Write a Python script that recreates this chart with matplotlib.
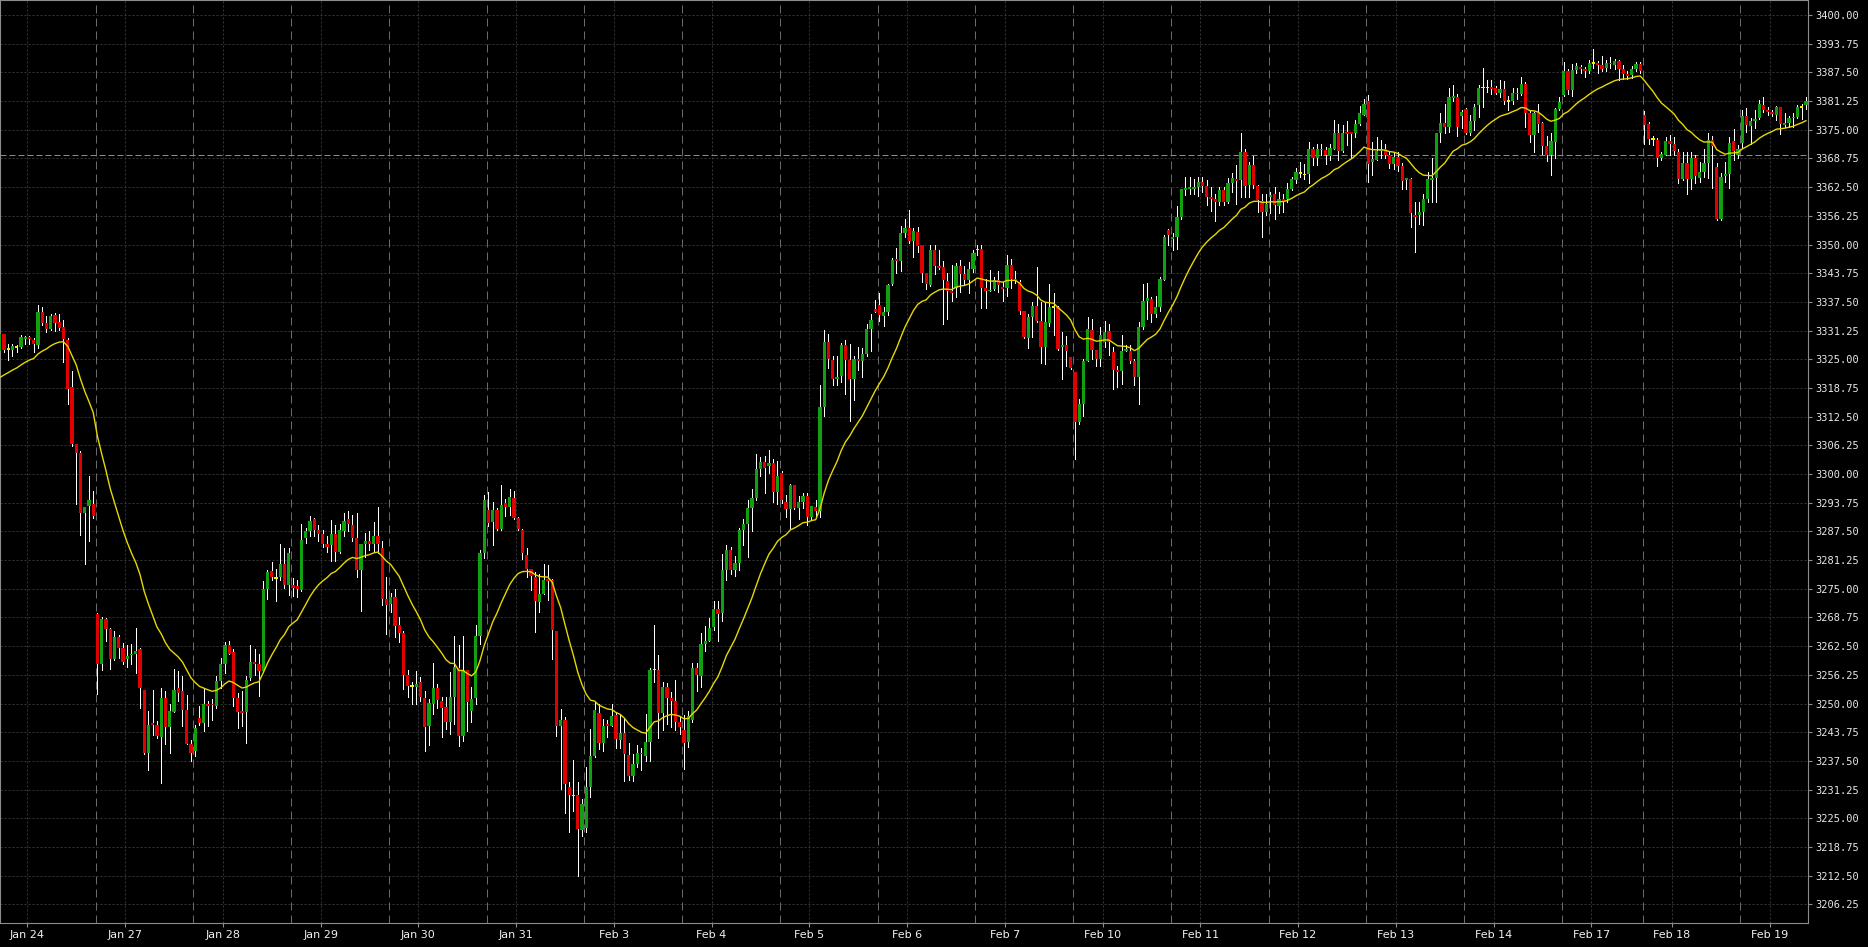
import matplotlib.pyplot as plt
import numpy as np

# hourly bars, one session = 23 bars (Feb 17 short session)
opens = [
    3326.8, 3330.5, 3327.0, 3327.0, 3327.5, 3327.7, 3329.5, 3329.9, 3329.2, 3328.1,
    3335.3, 3332.9, 3331.5, 3334.6, 3333.1, 3332.1, 3329.2, 3319.0, 3306.5, 3304.6,
    3291.4, 3293.0, 3293.4, 3269.6, 3258.6, 3268.4, 3266.3, 3259.6, 3264.4, 3262.1,
    3259.6, 3260.5, 3260.7, 3261.9, 3252.9, 3239.2, 3245.7, 3245.4, 3242.7, 3251.1,
    3244.9, 3248.2, 3253.3, 3252.7, 3248.5, 3241.1, 3239.6, 3246.9, 3245.8, 3249.8,
    3249.9, 3249.4, 3255.0, 3258.6, 3262.8, 3261.2, 3251.2, 3248.3, 3248.2, 3255.6,
    3259.0, 3258.5, 3257.0, 3275.0, 3278.9, 3277.2, 3277.5, 3280.4, 3275.9, 3275.9,
    3275.6, 3274.8, 3286.1, 3287.5, 3290.1, 3287.9, 3286.9, 3284.7, 3284.5, 3287.0,
    3283.0, 3287.6, 3290.1, 3288.8, 3286.1, 3279.1, 3284.7, 3285.5, 3284.7, 3286.4,
    3283.9, 3272.8, 3271.7, 3273.3, 3267.0, 3265.3, 3256.3, 3253.6, 3253.6, 3254.6,
    3251.2, 3245.0, 3249.9, 3253.4, 3250.6, 3249.3, 3245.9, 3251.5, 3257.8, 3242.9,
    3257.2, 3248.3, 3251.2, 3264.6, 3282.8, 3292.2, 3289.5, 3292.2, 3288.1, 3293.7,
    3292.8, 3294.8, 3290.4, 3287.9, 3282.3, 3279.2, 3277.5, 3272.2, 3273.9, 3277.0,
    3276.8, 3265.7, 3245.0, 3246.5, 3231.9, 3229.8, 3230.1, 3222.4, 3222.8, 3231.9,
    3238.6, 3248.0, 3241.3, 3245.4, 3245.1, 3247.5, 3242.1, 3243.6, 3238.8, 3234.2,
    3236.8, 3239.2, 3238.6, 3241.7, 3257.2, 3257.3, 3248.0, 3253.7, 3251.3, 3250.5,
    3246.0, 3244.2, 3241.7, 3246.3, 3257.8, 3256.1, 3263.0, 3263.6, 3266.7, 3270.5,
    3269.8, 3279.1, 3283.5, 3279.0, 3280.6, 3287.7, 3289.0, 3292.5, 3294.8, 3301.1,
    3302.7, 3301.8, 3302.5, 3296.1, 3300.3, 3294.0, 3292.4, 3297.5, 3292.7, 3293.8,
    3295.3, 3290.6, 3292.8, 3291.9, 3314.6, 3328.7, 3324.8, 3320.8, 3321.4, 3328.2,
    3324.8, 3320.8, 3325.1, 3324.6, 3326.1, 3331.6, 3336.0, 3336.9, 3334.5, 3335.2,
    3341.3, 3346.9, 3346.3, 3352.5, 3353.7, 3350.7, 3352.7, 3349.8, 3343.8, 3341.2,
    3348.9, 3345.3, 3345.0, 3342.0, 3339.8, 3340.5, 3345.4, 3343.6, 3342.2, 3344.6,
    3348.7, 3349.1, 3340.5, 3339.8, 3340.2, 3342.2, 3340.7, 3340.5, 3345.6, 3342.5,
    3341.8, 3335.5, 3329.6, 3334.3, 3336.7, 3333.3, 3327.6, 3332.9, 3336.2, 3336.3,
    3327.6, 3328.0, 3325.4, 3322.3, 3311.4, 3315.2, 3324.6, 3331.3, 3327.0, 3325.1,
    3328.7, 3331.1, 3326.5, 3322.6, 3322.4, 3326.8, 3326.9, 3324.6, 3321.2, 3332.0,
    3337.8, 3338.2, 3334.9, 3336.3, 3342.2, 3353.1, 3351.1, 3351.6, 3356.0, 3361.9,
    3362.1, 3362.1, 3362.5, 3363.6, 3362.7, 3360.4, 3360.0, 3359.2, 3361.9, 3359.2,
    3363.5, 3364.3, 3364.0, 3370.1, 3363.0, 3367.3, 3362.7, 3359.5, 3357.1, 3360.4,
    3361.0, 3358.4, 3359.9, 3359.9, 3362.2, 3364.0, 3365.4, 3365.1, 3365.3, 3370.8,
    3368.8, 3370.5, 3370.6, 3369.3, 3370.9, 3374.4, 3370.4, 3374.4, 3374.4, 3374.2,
    3376.2, 3378.3, 3381.3, 3367.9, 3368.4, 3370.4, 3370.9, 3369.4, 3367.5, 3369.0,
    3367.0, 3364.1, 3364.3, 3356.5, 3356.4, 3357.1, 3360.0, 3364.1, 3364.4, 3374.2,
    3376.4, 3375.7, 3382.0, 3382.2, 3378.1, 3379.5, 3374.4, 3376.9, 3380.4, 3384.0,
    3384.0, 3384.4, 3384.0, 3383.1, 3383.9, 3381.1, 3381.3, 3383.1, 3382.7, 3384.9,
    3378.7, 3373.8, 3378.6, 3376.4, 3371.5, 3369.4, 3372.4, 3379.5, 3382.6, 3387.8,
    3383.6, 3388.0, 3388.7, 3388.2, 3387.7, 3389.4, 3389.5, 3389.1, 3388.4, 3389.5,
    3389.1, 3390.0, 3388.2, 3387.1, 3386.9, 3388.2, 3389.3, 3378.2, 3376.2, 3372.8,
    3372.8, 3368.8, 3369.6, 3372.5, 3371.9, 3370.2, 3364.3, 3367.7, 3364.3, 3368.9,
    3364.5, 3365.7, 3367.7, 3372.8, 3366.8, 3355.5, 3365.0, 3365.3, 3372.5, 3369.6,
    3372.2, 3378.0, 3375.9, 3376.9, 3377.6, 3380.5, 3379.3, 3378.8, 3378.2, 3379.9,
    3376.0, 3376.5, 3377.5, 3377.8, 3379.8, 3380.4,
]
highs = [
    3332.1, 3330.6, 3328.3, 3328.4, 3328.1, 3330.3, 3330.1, 3330.1, 3329.7, 3336.9,
    3336.3, 3334.4, 3334.8, 3335.0, 3334.8, 3333.5, 3329.7, 3322.5, 3306.5, 3305.0,
    3292.8, 3299.6, 3296.4, 3269.8, 3268.8, 3268.7, 3266.5, 3265.8, 3265.0, 3263.2,
    3262.8, 3263.0, 3266.5, 3262.1, 3253.0, 3248.3, 3252.9, 3246.1, 3253.4, 3252.7,
    3249.8, 3257.6, 3257.0, 3256.0, 3251.8, 3242.1, 3245.4, 3249.4, 3253.4, 3250.5,
    3250.9, 3256.0, 3260.0, 3263.4, 3263.6, 3261.8, 3252.3, 3252.7, 3256.0, 3262.8,
    3261.8, 3260.7, 3276.7, 3279.0, 3280.9, 3279.4, 3284.8, 3283.9, 3283.9, 3277.4,
    3276.8, 3289.0, 3288.3, 3290.8, 3290.4, 3288.8, 3287.7, 3286.6, 3290.0, 3288.8,
    3289.2, 3291.4, 3291.9, 3291.1, 3291.4, 3284.8, 3287.2, 3287.5, 3289.5, 3292.8,
    3285.4, 3277.5, 3274.0, 3275.0, 3268.8, 3265.9, 3257.2, 3254.6, 3257.0, 3255.7,
    3252.8, 3251.0, 3258.8, 3254.3, 3251.5, 3251.4, 3256.8, 3264.8, 3262.8, 3264.7,
    3257.3, 3253.6, 3267.2, 3283.4, 3295.4, 3296.1, 3293.9, 3292.7, 3297.5, 3294.6,
    3296.8, 3296.2, 3290.6, 3288.1, 3283.9, 3279.2, 3278.6, 3278.3, 3280.5, 3280.1,
    3277.2, 3265.9, 3248.8, 3247.0, 3232.8, 3237.7, 3232.8, 3229.2, 3236.2, 3244.5,
    3250.4, 3249.9, 3246.7, 3246.4, 3249.9, 3248.0, 3247.6, 3246.8, 3241.4, 3239.0,
    3241.0, 3240.2, 3247.7, 3257.8, 3267.2, 3260.5, 3254.7, 3254.5, 3252.5, 3255.1,
    3247.0, 3247.5, 3248.3, 3258.9, 3258.8, 3265.4, 3266.8, 3268.6, 3272.3, 3272.3,
    3282.6, 3284.6, 3284.2, 3282.2, 3288.2, 3290.1, 3294.4, 3296.7, 3304.4, 3303.8,
    3304.0, 3305.3, 3303.2, 3302.8, 3300.7, 3295.5, 3297.9, 3297.5, 3295.1, 3295.9,
    3295.9, 3293.1, 3294.4, 3319.3, 3331.4, 3330.4, 3325.8, 3325.8, 3328.6, 3329.3,
    3328.3, 3325.8, 3327.7, 3327.5, 3332.6, 3334.8, 3338.0, 3339.5, 3336.4, 3341.4,
    3347.1, 3349.3, 3354.0, 3355.5, 3357.6, 3353.6, 3353.9, 3349.8, 3343.8, 3349.8,
    3349.8, 3348.7, 3346.5, 3343.8, 3345.6, 3345.9, 3346.7, 3345.4, 3346.2, 3348.9,
    3349.9, 3349.9, 3342.5, 3344.5, 3342.9, 3344.3, 3341.9, 3347.8, 3346.9, 3344.3,
    3342.2, 3335.6, 3334.9, 3337.4, 3345.1, 3337.4, 3337.4, 3341.4, 3339.5, 3336.7,
    3331.0, 3330.0, 3325.4, 3322.3, 3316.4, 3325.0, 3334.3, 3333.8, 3327.0, 3332.0,
    3333.3, 3332.7, 3327.6, 3323.6, 3330.2, 3328.0, 3328.0, 3325.1, 3333.1, 3341.4,
    3341.6, 3338.5, 3338.7, 3343.0, 3352.0, 3353.4, 3352.5, 3358.3, 3362.0, 3364.6,
    3364.6, 3364.3, 3364.6, 3364.6, 3364.0, 3362.6, 3361.1, 3362.6, 3362.6, 3364.4,
    3365.5, 3367.3, 3374.4, 3370.9, 3368.0, 3369.3, 3363.0, 3361.1, 3361.1, 3361.5,
    3362.6, 3361.5, 3361.1, 3363.5, 3364.8, 3366.6, 3367.9, 3367.5, 3372.4, 3371.3,
    3371.8, 3372.0, 3371.3, 3372.0, 3377.1, 3376.2, 3376.0, 3376.9, 3374.4, 3377.1,
    3380.2, 3381.8, 3382.6, 3372.4, 3373.5, 3372.8, 3372.0, 3370.2, 3370.2, 3370.2,
    3367.7, 3364.5, 3364.4, 3359.3, 3359.3, 3361.0, 3365.9, 3368.8, 3374.4, 3378.6,
    3380.7, 3384.0, 3384.7, 3382.7, 3379.3, 3379.8, 3378.2, 3380.7, 3384.7, 3388.4,
    3385.8, 3385.8, 3384.6, 3385.8, 3385.7, 3382.4, 3384.0, 3384.2, 3386.4, 3385.5,
    3379.3, 3378.9, 3380.7, 3376.6, 3373.7, 3374.4, 3379.8, 3382.2, 3389.7, 3388.2,
    3389.3, 3389.5, 3389.1, 3388.7, 3390.2, 3392.6, 3390.0, 3391.1, 3390.2, 3390.9,
    3390.4, 3390.2, 3389.1, 3387.7, 3388.9, 3389.8, 3389.8, 3379.1, 3376.6, 3373.7,
    3373.1, 3370.2, 3373.5, 3373.8, 3373.5, 3370.8, 3370.2, 3370.2, 3370.2, 3369.5,
    3367.9, 3370.8, 3374.4, 3373.7, 3367.7, 3365.5, 3367.9, 3373.5, 3375.2, 3371.7,
    3379.3, 3379.8, 3377.6, 3379.3, 3381.5, 3382.1, 3380.0, 3379.3, 3380.2, 3380.0,
    3378.6, 3378.1, 3378.6, 3380.5, 3380.7, 3382.2,
]
lows = [
    3326.5, 3326.6, 3324.8, 3325.7, 3326.5, 3327.5, 3328.4, 3328.4, 3326.6, 3327.5,
    3332.4, 3331.0, 3331.3, 3331.2, 3331.4, 3324.5, 3315.3, 3306.0, 3293.4, 3286.8,
    3280.3, 3285.4, 3290.5, 3252.0, 3257.2, 3263.7, 3257.6, 3259.4, 3260.0, 3258.6,
    3257.9, 3258.5, 3256.7, 3249.1, 3239.0, 3235.6, 3243.2, 3242.5, 3232.7, 3241.1,
    3239.2, 3248.2, 3250.5, 3245.1, 3241.1, 3237.4, 3238.5, 3245.4, 3244.0, 3245.0,
    3246.5, 3249.1, 3253.4, 3256.7, 3260.7, 3249.4, 3244.7, 3245.1, 3241.4, 3255.2,
    3256.3, 3251.6, 3256.9, 3272.7, 3276.8, 3272.4, 3276.8, 3275.2, 3273.6, 3273.4,
    3273.2, 3274.5, 3285.0, 3286.6, 3286.6, 3285.5, 3284.2, 3283.0, 3281.0, 3281.0,
    3282.7, 3286.6, 3287.5, 3285.5, 3277.5, 3270.1, 3282.0, 3283.4, 3283.0, 3282.8,
    3271.4, 3265.2, 3270.0, 3264.5, 3263.4, 3253.2, 3251.4, 3249.9, 3249.9, 3250.6,
    3239.6, 3241.0, 3247.7, 3249.0, 3242.6, 3244.5, 3243.4, 3245.6, 3240.8, 3241.9,
    3244.0, 3245.9, 3249.9, 3263.0, 3281.8, 3288.6, 3284.5, 3287.7, 3287.7, 3290.8,
    3291.1, 3290.3, 3287.9, 3281.5, 3277.5, 3274.8, 3265.6, 3269.9, 3273.8, 3272.5,
    3259.7, 3243.0, 3231.4, 3226.1, 3221.9, 3226.6, 3212.5, 3221.2, 3221.9, 3229.6,
    3238.3, 3240.1, 3239.6, 3242.6, 3245.0, 3240.2, 3240.2, 3233.1, 3233.4, 3233.1,
    3236.2, 3235.6, 3237.5, 3237.5, 3254.6, 3242.5, 3244.2, 3245.6, 3244.9, 3244.2,
    3243.3, 3235.8, 3240.6, 3245.9, 3252.7, 3253.5, 3261.4, 3263.6, 3266.0, 3263.6,
    3268.0, 3276.9, 3278.3, 3277.7, 3279.0, 3284.6, 3282.0, 3287.6, 3294.4, 3299.5,
    3295.9, 3300.3, 3293.9, 3293.5, 3293.6, 3290.6, 3288.2, 3292.3, 3290.1, 3292.7,
    3288.8, 3290.1, 3290.4, 3290.6, 3312.7, 3323.2, 3319.3, 3319.3, 3320.1, 3317.5,
    3311.5, 3316.2, 3322.7, 3321.1, 3325.8, 3326.7, 3335.2, 3333.4, 3332.2, 3334.6,
    3341.1, 3343.9, 3344.3, 3351.6, 3350.4, 3347.3, 3348.3, 3341.8, 3340.3, 3340.9,
    3343.6, 3344.7, 3332.7, 3333.8, 3337.8, 3338.5, 3339.6, 3341.4, 3339.5, 3344.1,
    3347.8, 3336.1, 3336.1, 3339.8, 3340.0, 3339.6, 3337.8, 3338.7, 3340.5, 3341.6,
    3334.9, 3329.6, 3327.4, 3329.8, 3333.1, 3324.1, 3324.0, 3332.3, 3330.2, 3327.1,
    3320.7, 3323.6, 3322.8, 3303.3, 3311.0, 3312.7, 3324.6, 3325.1, 3323.6, 3323.6,
    3327.6, 3325.9, 3318.5, 3318.9, 3319.6, 3326.7, 3324.1, 3319.3, 3315.3, 3331.5,
    3333.8, 3333.1, 3334.3, 3335.5, 3342.2, 3349.8, 3348.8, 3349.1, 3355.5, 3360.8,
    3360.9, 3360.9, 3360.5, 3361.5, 3358.6, 3357.4, 3355.1, 3358.7, 3358.6, 3359.0,
    3361.5, 3358.9, 3360.4, 3360.4, 3360.4, 3362.4, 3357.1, 3351.7, 3356.4, 3356.8,
    3355.5, 3356.8, 3357.1, 3359.3, 3361.9, 3363.3, 3364.8, 3364.2, 3363.5, 3367.3,
    3367.3, 3369.5, 3367.5, 3368.4, 3370.8, 3368.4, 3370.2, 3371.7, 3368.8, 3373.5,
    3376.0, 3378.2, 3363.7, 3365.1, 3368.4, 3368.8, 3368.8, 3366.6, 3366.4, 3366.0,
    3362.2, 3362.2, 3353.9, 3348.4, 3354.4, 3354.2, 3359.2, 3359.3, 3359.3, 3372.4,
    3374.2, 3374.6, 3381.3, 3373.7, 3375.3, 3374.0, 3373.8, 3374.9, 3377.8, 3380.0,
    3383.3, 3382.7, 3382.7, 3382.2, 3380.7, 3379.3, 3380.7, 3381.8, 3382.6, 3375.7,
    3372.4, 3370.2, 3374.6, 3369.8, 3368.2, 3365.1, 3368.8, 3379.3, 3382.4, 3382.7,
    3382.4, 3387.4, 3387.3, 3386.6, 3387.3, 3388.4, 3387.3, 3387.7, 3387.7, 3388.4,
    3388.2, 3385.8, 3386.0, 3386.0, 3386.2, 3387.7, 3387.4, 3372.0, 3372.0, 3371.7,
    3367.2, 3368.4, 3369.5, 3369.5, 3369.5, 3363.3, 3364.0, 3361.1, 3362.2, 3363.3,
    3363.7, 3364.8, 3364.5, 3362.4, 3355.3, 3355.3, 3363.7, 3362.4, 3368.4, 3368.8,
    3371.1, 3374.6, 3372.0, 3375.4, 3377.3, 3378.9, 3378.2, 3378.1, 3377.1, 3374.0,
    3375.7, 3375.7, 3375.7, 3377.5, 3377.3, 3379.5,
]
closes = [
    3330.5, 3327.0, 3327.0, 3327.9, 3327.5, 3329.9, 3329.9, 3329.5, 3328.4, 3335.3,
    3332.9, 3331.7, 3334.4, 3333.0, 3331.9, 3329.4, 3318.6, 3306.5, 3304.6, 3291.4,
    3292.8, 3294.3, 3290.8, 3258.6, 3268.4, 3266.3, 3259.6, 3264.4, 3262.1, 3259.1,
    3260.3, 3260.7, 3261.5, 3253.3, 3239.2, 3245.4, 3245.3, 3242.9, 3251.1, 3244.9,
    3248.3, 3253.0, 3252.3, 3248.5, 3241.1, 3239.2, 3244.7, 3245.8, 3249.8, 3249.4,
    3249.6, 3254.9, 3258.5, 3262.7, 3260.8, 3251.2, 3248.2, 3248.0, 3255.2, 3259.0,
    3258.6, 3257.0, 3275.0, 3278.6, 3277.5, 3277.2, 3280.4, 3275.9, 3282.8, 3275.2,
    3275.0, 3285.7, 3287.5, 3289.7, 3287.9, 3286.9, 3284.7, 3284.2, 3287.0, 3283.0,
    3287.7, 3289.7, 3289.0, 3286.1, 3279.1, 3284.7, 3285.3, 3284.7, 3286.4, 3284.8,
    3272.8, 3271.4, 3273.3, 3266.9, 3265.3, 3256.3, 3253.9, 3253.6, 3254.3, 3251.5,
    3244.8, 3250.1, 3253.4, 3250.8, 3249.0, 3245.9, 3251.5, 3257.9, 3242.9, 3257.3,
    3250.3, 3251.0, 3264.6, 3282.8, 3294.3, 3289.3, 3292.2, 3288.1, 3293.2, 3292.8,
    3294.9, 3290.4, 3288.1, 3282.7, 3279.2, 3277.7, 3272.3, 3273.9, 3277.0, 3276.7,
    3266.1, 3245.0, 3246.5, 3232.5, 3230.1, 3229.8, 3222.7, 3228.1, 3231.9, 3238.6,
    3248.5, 3241.3, 3245.1, 3245.1, 3247.3, 3242.2, 3243.6, 3238.9, 3234.2, 3236.8,
    3239.2, 3238.9, 3241.7, 3257.3, 3257.2, 3248.0, 3253.7, 3251.3, 3250.5, 3246.0,
    3244.9, 3241.4, 3247.2, 3257.8, 3256.2, 3263.0, 3263.6, 3266.4, 3270.5, 3269.4,
    3279.1, 3283.5, 3279.0, 3280.6, 3287.8, 3289.0, 3292.7, 3294.8, 3301.0, 3302.7,
    3301.4, 3302.3, 3296.1, 3299.5, 3294.4, 3292.3, 3297.5, 3292.5, 3293.8, 3295.3,
    3290.6, 3293.1, 3291.9, 3314.6, 3328.7, 3325.1, 3320.8, 3321.2, 3328.0, 3324.9,
    3320.8, 3325.1, 3324.6, 3326.1, 3331.6, 3333.6, 3335.4, 3334.6, 3335.4, 3341.1,
    3346.7, 3346.3, 3352.6, 3353.5, 3350.7, 3353.0, 3349.6, 3343.8, 3341.3, 3348.9,
    3345.3, 3344.9, 3342.2, 3339.8, 3339.5, 3345.4, 3343.6, 3342.2, 3344.6, 3348.2,
    3348.7, 3340.5, 3339.8, 3340.1, 3342.2, 3341.2, 3340.2, 3345.6, 3342.5, 3342.2,
    3335.5, 3329.8, 3334.3, 3336.7, 3333.3, 3327.6, 3333.1, 3336.3, 3336.2, 3327.3,
    3328.0, 3326.7, 3323.0, 3311.3, 3315.3, 3324.6, 3331.5, 3327.0, 3325.1, 3330.2,
    3330.9, 3328.8, 3322.6, 3322.2, 3326.9, 3327.3, 3324.6, 3321.1, 3332.0, 3337.8,
    3338.3, 3334.9, 3336.3, 3342.4, 3351.6, 3352.0, 3351.6, 3356.0, 3362.0, 3362.3,
    3362.5, 3362.5, 3363.6, 3362.7, 3360.4, 3360.0, 3359.2, 3361.9, 3359.2, 3363.5,
    3364.4, 3363.9, 3370.1, 3362.8, 3367.3, 3363.0, 3359.7, 3357.1, 3358.9, 3360.8,
    3358.6, 3360.0, 3359.5, 3362.1, 3364.3, 3365.9, 3365.4, 3365.1, 3370.8, 3368.8,
    3370.8, 3370.8, 3369.4, 3371.1, 3374.4, 3370.4, 3374.4, 3374.1, 3374.1, 3376.2,
    3378.6, 3380.6, 3367.5, 3368.6, 3370.4, 3370.9, 3369.4, 3367.5, 3369.0, 3367.0,
    3363.8, 3364.4, 3356.9, 3356.0, 3357.1, 3360.0, 3364.3, 3364.4, 3374.4, 3376.4,
    3375.7, 3382.2, 3382.3, 3375.7, 3378.9, 3374.4, 3376.9, 3380.0, 3384.2, 3384.0,
    3384.0, 3383.9, 3383.1, 3383.9, 3381.3, 3381.1, 3383.1, 3382.7, 3384.9, 3378.7,
    3373.8, 3378.6, 3376.2, 3371.5, 3369.4, 3372.5, 3379.5, 3381.0, 3387.8, 3383.6,
    3388.0, 3388.9, 3388.2, 3387.7, 3389.6, 3389.4, 3389.1, 3388.2, 3389.6, 3389.3,
    3390.0, 3388.2, 3387.1, 3386.8, 3388.2, 3389.3, 3387.9, 3376.0, 3373.0, 3372.8,
    3368.8, 3369.7, 3372.5, 3371.9, 3370.4, 3364.3, 3367.7, 3364.3, 3368.8, 3365.0,
    3365.7, 3367.7, 3372.8, 3371.5, 3355.5, 3364.8, 3365.4, 3372.2, 3370.4, 3370.8,
    3378.1, 3376.0, 3376.9, 3377.3, 3380.7, 3379.2, 3378.8, 3378.4, 3379.9, 3376.2,
    3376.5, 3377.6, 3377.8, 3380.0, 3379.8, 3381.3,
]

session_starts = [0, 23, 46, 69, 92, 115, 138, 161, 184, 207, 230, 253, 276, 299,
                  322, 345, 368, 387, 410]
day_labels = ['Jan 24', 'Jan 27', 'Jan 28', 'Jan 29', 'Jan 30', 'Jan 31', 'Feb 3',
              'Feb 4', 'Feb 5', 'Feb 6', 'Feb 7', 'Feb 10', 'Feb 11', 'Feb 12',
              'Feb 13', 'Feb 14', 'Feb 17', 'Feb 18', 'Feb 19']
ma_period = 20
ma_start = 3321.0      # value of the average at the first bar
hline_price = 3369.5

o = np.array(opens)
h = np.array(highs)
l = np.array(lows)
c = np.array(closes)
x = np.arange(len(c))

# exponential moving average of closes
k = 2.0 / (ma_period + 1)
ema = [ma_start]
for v in c[1:]:
    ema.append(ema[-1] + k * (v - ema[-1]))

green = '#10a010'
red = '#e00000'
yellow = '#f0f000'
cols = np.where(c > o + 0.05, green, np.where(c < o - 0.05, red, yellow))
bottom = np.minimum(o, c)
height = np.maximum(np.abs(c - o), 0.35)

W, H = 1868, 947
fig = plt.figure(figsize=(W / 100, H / 100), dpi=100, facecolor='black')
ax = fig.add_axes([0, 24 / H, 1808 / W, 923 / H], facecolor='black')

yt = np.arange(3206.25, 3400.01, 6.25)
for yv in yt:
    ax.axhline(yv, color='#363636', lw=0.72, ls=(0, (2, 2)), zorder=0)
lab_pos = [s + 6.5 for s in session_starts]
for xv in lab_pos:
    ax.axvline(xv, color='#363636', lw=0.72, ls=(0, (2, 2)), zorder=0)
for s in session_starts[1:]:
    ax.axvline(s - 0.45, color='#6a6a6a', lw=0.72, ls=(0, (8, 5)), zorder=0)
ax.axhline(hline_price, color='#8a8a8a', lw=0.72, ls=(0, (6, 3)), zorder=1)

ax.vlines(x, l, h, color='white', lw=0.6, antialiased=False, zorder=2)
ax.bar(x, height, bottom=bottom, width=0.78, color=cols, linewidth=0,
       antialiased=False, zorder=3)
ax.plot(x, ema, color='#e6d800', lw=1.0, zorder=4)

ax.set_xlim(0.07, 425.48)
ax.set_ylim(3202.18, 3403.27)

ax.yaxis.tick_right()
ax.set_yticks(yt)
ax.set_yticklabels(['%.2f' % v for v in yt], fontfamily='DejaVu Sans Mono',
                   fontsize=7.5, color='#e8e8e8')
ax.set_xticks(lab_pos)
ax.set_xticklabels(day_labels, fontsize=8, color='#f0f0f0')
ax.tick_params(axis='both', colors='#8c8c8c', length=3, width=0.8, pad=2)
ax.tick_params(axis='y', labelcolor='#e8e8e8')
ax.tick_params(axis='x', labelcolor='#f0f0f0')
for sp in ax.spines.values():
    sp.set_color('#8c8c8c')
    sp.set_linewidth(0.8)

fig.savefig('out.png', dpi=100, facecolor='black')
